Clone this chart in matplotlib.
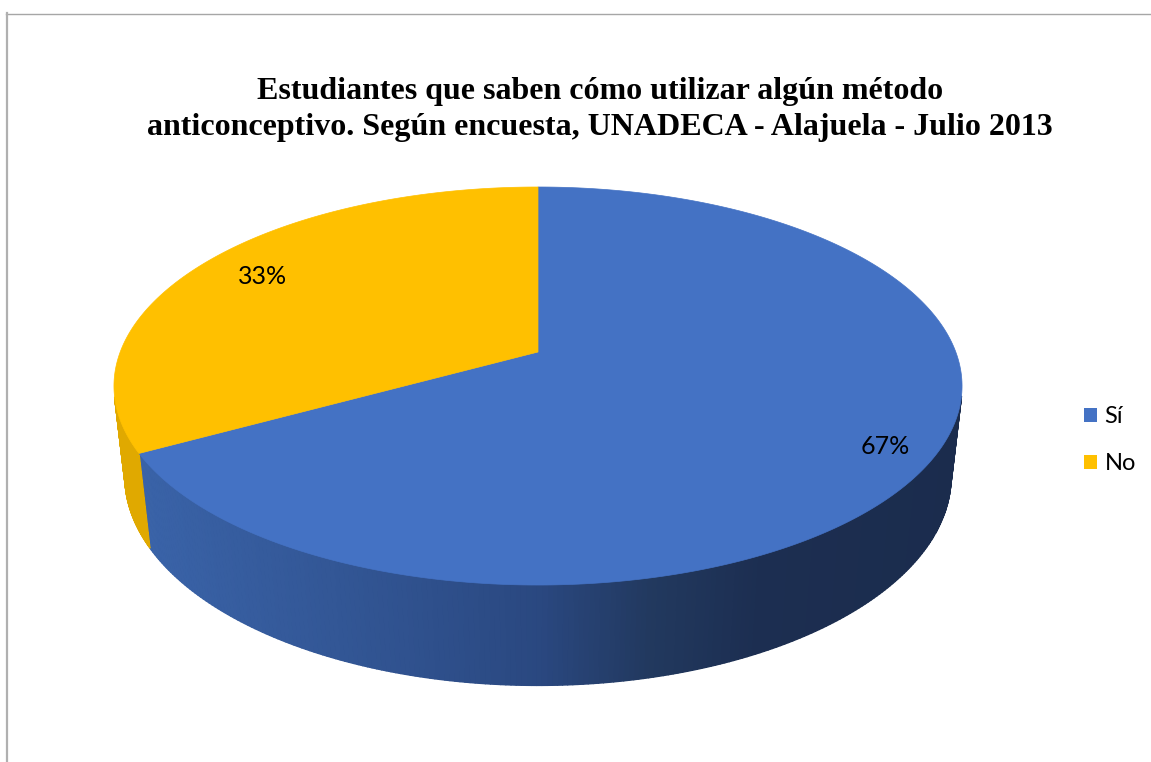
import numpy as np
import matplotlib.pyplot as plt
from matplotlib.collections import PolyCollection
from matplotlib.patches import Polygon, Patch
from matplotlib.lines import Line2D
from matplotlib.colors import LinearSegmentedColormap

#------------------------------------------------ DATA ------------------------------------------------#

labels = ["Sí", "No"]
values = [67, 33]
top_colors = ["#4472C4", "#FFC000"]
title = ("Estudiantes que saben cómo utilizar algún método\n"
         "anticonceptivo. Según encuesta, UNADECA - Alajuela - Julio 2013")

#--------------------------------------------- FIGURE SETUP -------------------------------------------#

W, H = 1151, 762
fig = plt.figure(figsize=(W / 100, H / 100), dpi=100)
ax = fig.add_axes([0, 0, 1, 1])
ax.set_xlim(0, W)
ax.set_ylim(H, 0)
ax.axis("off")

# perspective parameters of the tilted disc (pixel units)
cx, cy = 538, 352          # projected centre of the top face
A, B, K = 417.8, 193.2, -0.1709
DROP, DEPTH_K = 91.8, 0.0257   # shift/scale of the bottom face


def project(theta, r=1.0, bottom=False):
    # theta measured clockwise from 12 o'clock
    u = r * np.sin(theta)
    v = -r * np.cos(theta)
    d = 1 + K * v + (DEPTH_K if bottom else 0.0)
    x = cx + A * u / d
    y = cy + (B * v + (DROP if bottom else 0.0)) / d
    return x, y


# side wall shading, dark to the right
side_maps = [
    LinearSegmentedColormap.from_list("si_side", [
        (0.0, "#3B65AB"), (0.34, "#30528F"), (0.50, "#2A4880"),
        (0.63, "#22395F"), (0.76, "#1C2E51"), (1.0, "#1B2C4D")]),
    LinearSegmentedColormap.from_list("no_side", [(0.0, "#E0A900"), (1.0, "#D49E00")]),
]
x_left, x_right = cx - A * 1.015, cx + A * 1.015

#----------------------------------------------- PIE --------------------------------------------------#

fracs = np.array(values, dtype=float) / sum(values)
edges = np.concatenate([[0.0], np.cumsum(fracs)]) * 2 * np.pi

for i in range(len(values)):
    th = np.linspace(edges[i], edges[i + 1], 400)
    tx, ty = project(th)
    bx, by = project(th, bottom=True)
    quads, quad_colors, keep = [], [], []
    for j in range(len(th) - 1):
        q = np.array([[tx[j], ty[j]], [tx[j + 1], ty[j + 1]],
                      [bx[j + 1], by[j + 1]], [bx[j], by[j]]])
        xs, ys = q[:, 0], q[:, 1]
        area = 0.5 * np.sum(xs * np.roll(ys, -1) - np.roll(xs, -1) * ys)
        if area >= 0:
            continue
        keep.append(j)
        quads.append(q)
        frac_x = (xs.mean() - x_left) / (x_right - x_left)
        quad_colors.append(side_maps[i](np.clip(frac_x, 0, 1)))
    if not keep:
        continue
    # solid underlay of the visible wall so seams between strips stay hidden
    j0, j1 = keep[0], keep[-1] + 1
    wall = np.column_stack([np.r_[tx[j0:j1 + 1], bx[j0:j1 + 1][::-1]],
                            np.r_[ty[j0:j1 + 1], by[j0:j1 + 1][::-1]]])
    mean_col = np.mean(np.array(quad_colors), axis=0)
    ax.add_patch(Polygon(wall, closed=True, facecolor=mean_col, edgecolor="none", zorder=1))
    ax.add_collection(PolyCollection(quads, facecolors=quad_colors, edgecolors=quad_colors,
                                     linewidths=1.0, zorder=1.5))

for i in range(len(values)):
    th = np.linspace(edges[i], edges[i + 1], 400)
    tx, ty = project(th)
    pts = np.column_stack([np.r_[cx, tx], np.r_[cy, ty]])
    ax.add_patch(Polygon(pts, closed=True, facecolor=top_colors[i],
                         edgecolor=top_colors[i], linewidth=0.5, zorder=2))

# percentage labels on the top face
label_r = [0.89, 0.82]
for i in range(len(values)):
    mid = 0.5 * (edges[i] + edges[i + 1])
    lx, ly = project(mid, r=label_r[i])
    ax.text(lx, ly, f"{round(fracs[i] * 100):.0f}%", ha="center", va="center",
            fontsize=18, family="Lato", color="#000000", zorder=3)

#------------------------------------------- TITLE / LEGEND -------------------------------------------#

ax.text(600, 77, title, ha="center", va="top", fontsize=23, family="Liberation Serif",
        fontweight="bold", linespacing=1.3, color="#000000")

handles = [Patch(facecolor=c, edgecolor="none") for c in top_colors]
ax.legend(handles, labels, loc="center left", bbox_to_anchor=(1075 / W, 1 - 440 / H),
          frameon=False, prop={"family": "Lato", "size": 17}, handlelength=0.55,
          handleheight=0.55, handletextpad=0.3, labelspacing=1.1, borderaxespad=0)

# chart frame edges
fig.add_artist(Line2D([6 / W, 1], [1 - 13.5 / H] * 2, transform=fig.transFigure,
                      color="#A6A6A6", lw=1.0))
fig.add_artist(Line2D([6.5 / W] * 2, [0, 1 - 13 / H], transform=fig.transFigure,
                      color="#B0B0B0", lw=1.6))

fig.savefig("out.png", dpi=100)
